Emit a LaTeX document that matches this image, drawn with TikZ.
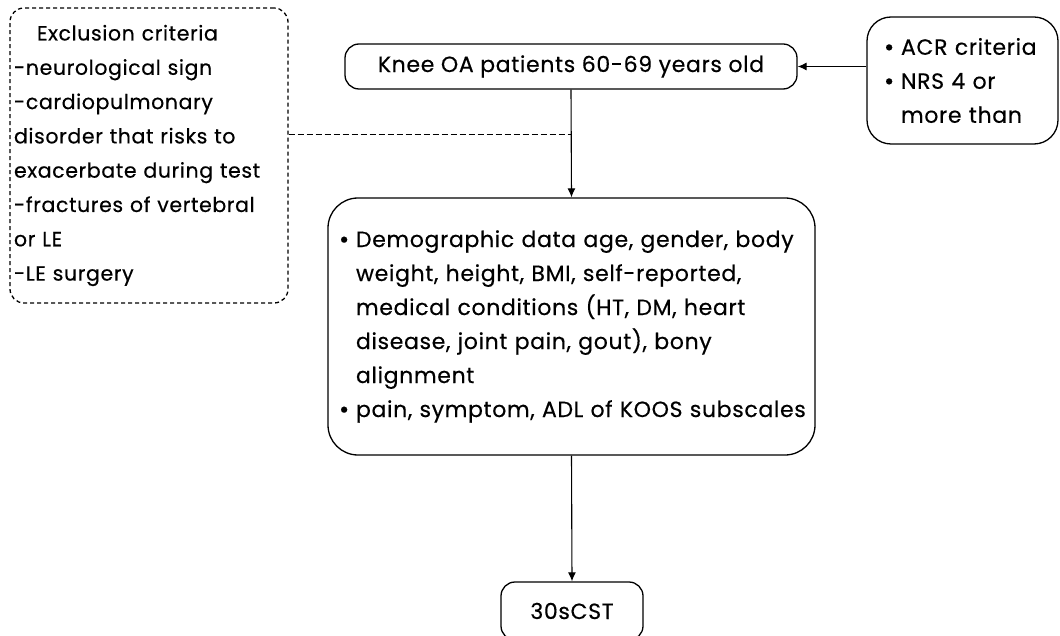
\documentclass[tikz,border=0pt]{standalone}
\usepackage{fontspec}
\setmainfont{Poppins}[LetterSpace=3,FakeBold=0.4]
\usepackage{tikz}
\usetikzlibrary{arrows.meta}

\newcommand{\bul}{\makebox[20pt][l]{\hspace*{3pt}\raisebox{-1pt}{\fontsize{25}{34}\selectfont\textbullet}}}
\newcommand{\ind}{\hspace*{20pt}}

\begin{document}
\begin{tikzpicture}[x=1pt,y=-1pt,line width=1.3pt,
    font=\fontsize{22}{34}\selectfont,
    box/.style={draw,rounded corners=#1,align=left,inner ysep=0pt},
    box/.default=14pt,
    arr/.style={-{Latex[length=9pt,width=8pt]},line width=1.1pt}]
    \useasboundingbox (0,0) rectangle (1060,636);
    % Exclusion criteria
    \node (excl) at (149,155.5) [box,dash pattern=on 4pt off 3pt,
        font=\fontsize{20.5}{34.3}\selectfont,
        text width=270pt,inner xsep=4pt,minimum height=295pt]
        {\hspace*{23pt}Exclusion criteria\\
         -neurological sign\\
         -cardiopulmonary\\
         disorder that risks to\\
         exacerbate during test\\
         -fractures of vertebral\\
         or LE\\
         -LE surgery};
    % Knee OA patients
    \node (knee) at (571,66.5) [box,minimum width=452pt,minimum height=45pt]
        {Knee OA patients 60-69 years old};
    % Inclusion
    \node (acr) at (962.5,80.5) [box=24pt,text width=163pt,inner xsep=14pt,
        minimum height=127pt]
        {\bul ACR criteria\\
         \bul NRS 4 or\\
         \ind more than};
    % Measurements
    \node (demo) at (571.5,326.5) [box=30pt,text width=471pt,inner xsep=8pt,
        minimum height=257pt]
        {\bul Demographic data age, gender, body\\
         \ind weight, height, BMI, self-reported,\\
         \ind medical conditions (HT, DM, heart\\
         \ind disease, joint pain, gout), bony\\
         \ind alignment\\
         \bul pain, symptom, ADL of KOOS subscales};
    % Test
    \node (cst) at (572,611) [box,minimum width=142pt,minimum height=58pt] {30sCST};
    % Arrows
    \draw[arr] (acr.west |- knee.east) -- (knee.east);
    \draw[arr] (knee.south) -- (demo.north);
    \draw[arr] (demo.south) -- (cst.north);
    % Excluded
    \coordinate (join) at (571,135);
    \draw[dash pattern=on 6pt off 3pt,line width=1pt] (excl.east |- join) -- (join);
\end{tikzpicture}
\end{document}
